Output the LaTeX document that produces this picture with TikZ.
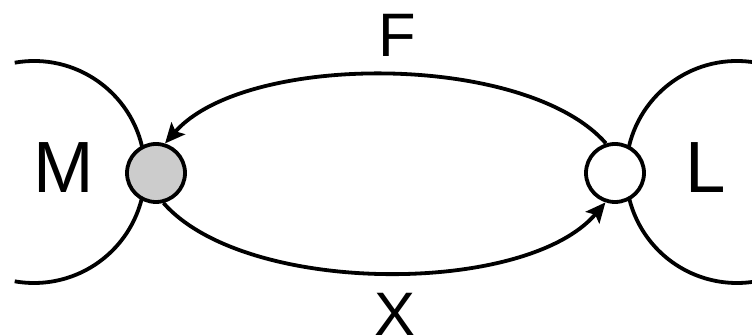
\documentclass[tikz,border=0pt]{standalone}
\usepackage{fontspec}
\setmainfont{Liberation Sans}
\usetikzlibrary{arrows.meta}
\begin{document}
\begin{tikzpicture}[x=1pt,y=1pt,
  every node/.style={inner sep=0pt},
  site/.style={circle,draw=black,line width=3.8pt,minimum size=58pt},
  big/.style={font=\fontsize{72.6}{80}\selectfont},
  mid/.style={font=\fontsize{61.4}{70}\selectfont},
  link/.style={line width=3.8pt,-{Stealth[length=20pt,width=18pt,inset=4pt]}},
  bowl/.style={line width=3.8pt}]
\useasboundingbox (0,0) rectangle (752,336);
\clip (0,0) rectangle (752,336);
\draw[bowl] (34,164) ++(100:111) arc[start angle=100,end angle=-100,radius=111];
\draw[bowl] (737,164) ++(80:111) arc[start angle=80,end angle=280,radius=111];
\node[site,fill=black!20] (g) at (156,163) {};
\node[site,fill=white] (w) at (615,163) {};
\draw[link] (w.107) .. controls (526,284) and (245,284) .. (g.73);
\draw[link] (g.284) .. controls (245,40) and (526,40) .. (w.252);
\node[big] (m) at (63.5,168) {M};
\node[big] (l) at (705.5,168) {L};
\node[mid] (f) at (397,301) {F};
\node[mid] (x) at (395,22) {X};
\end{tikzpicture}
\end{document}
